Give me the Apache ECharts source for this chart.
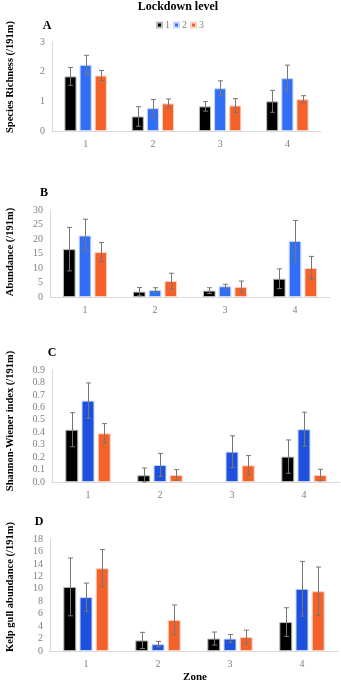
<!DOCTYPE html>
<html>
<head>
<meta charset="utf-8">
<script src="https://cdn.jsdelivr.net/npm/echarts@6/dist/echarts.min.js"></script>
<style>
  html, body { margin: 0; padding: 0; background: #fff; }
  #chart { width: 341px; height: 685px; }
</style>
</head>
<body>
<div id="chart"></div>
<script>
// Zones along the beach and the three lockdown levels
const zones = ['1', '2', '3', '4'];
const levels = ['1', '2', '3'];

// Panel A: species richness per 191 m (mean, SE) — one row per lockdown level
const richnessMean = [[1.84, 0.49, 0.83, 1.00], [2.23, 0.77, 1.44, 1.78], [1.87, 0.93, 0.86, 1.07]];
const richnessErr  = [[0.30, 0.33, 0.16, 0.37], [0.32, 0.29, 0.25, 0.44], [0.17, 0.15, 0.23, 0.12]];

// Panel B: abundance per 191 m
const abundanceMean = [[16.5, 1.85, 2.2, 6.3], [21.2, 2.4, 3.7, 19.3], [15.5, 5.5, 3.5, 10.0]];
const abundanceErr  = [[7.5, 1.4, 1.0, 3.4], [5.6, 0.8, 0.7, 7.1], [3.3, 2.7, 2.0, 4.0]];

// Panel C: Shannon-Wiener index per 191 m
const shannonMean = [[0.42, 0.054, 0, 0.204], [0.654, 0.137, 0.244, 0.424], [0.391, 0.056, 0.134, 0.056]];
const shannonErr  = [[0.137, 0.058, 0, 0.134], [0.142, 0.093, 0.127, 0.137], [0.078, 0.043, 0.078, 0.046]];

// Panel D: kelp gull abundance per 191 m
const gullMean = [[10.3, 1.7, 2.0, 4.65], [8.66, 1.1, 2.0, 10.0], [13.3, 5.0, 2.25, 9.6]];
const gullErr  = [[4.65, 1.3, 1.05, 2.3], [2.25, 0.43, 0.65, 4.4], [3.0, 2.4, 1.1, 3.9]];

// Axis ranges for each panel
const yMax = [3, 30, 0.9, 18];
const yStep = [1, 5, 0.1, 2];
const yDecimals = [0, 0, 1, 0];

const panelNames = ['A', 'B', 'C', 'D'];
const yTitles = ['Species Richness (/191m)', 'Abundance (/191m)', 'Shannon-Wiener index (/191m)', 'Kelp gull abundance (/191m)'];

const serif = '"Liberation Serif", "DejaVu Serif", serif';
const bluesLight = '#2f6ef5';
const bluesDark = '#1e50de';
const orange = '#f4622a';

const panels = [
  { mean: richnessMean, err: richnessErr, blue: bluesLight,
    grid: { left: 52, right: 20, top: 42, height: 89 } },
  { mean: abundanceMean, err: abundanceErr, blue: bluesLight,
    grid: { left: 50, right: 11, top: 210, height: 87 } },
  { mean: shannonMean, err: shannonErr, blue: bluesDark,
    grid: { left: 52, right: 1, top: 370, height: 112 } },
  { mean: gullMean, err: gullErr, blue: bluesDark,
    grid: { left: 50, right: 3, top: 539, height: 112 } }
];

const BAR_FRAC = 0.18;
const GAP_FRAC = 0.25;

const grids = [], xAxes = [], yAxes = [], series = [];

panels.forEach((p, pi) => {
  grids.push(p.grid);
  xAxes.push({
    type: 'category', gridIndex: pi, data: zones,
    axisLine: { lineStyle: { color: '#d9d9d9', width: 1 } },
    axisTick: { show: false },
    axisLabel: { color: '#7f7f7f', fontFamily: serif, fontSize: 10, margin: 8 }
  });
  yAxes.push({
    type: 'value', gridIndex: pi, min: 0, max: yMax[pi], interval: yStep[pi],
    axisLine: { show: true, lineStyle: { color: '#d9d9d9', width: 1 } },
    axisTick: { show: false },
    splitLine: { show: false },
    axisLabel: {
      color: '#7f7f7f', fontFamily: serif, fontSize: 10, margin: 7,
      formatter: v => v.toFixed(yDecimals[pi])
    }
  });

  const colors = ['#000000', p.blue, orange];
  const borders = ['#b8b8b8', '#c9d8fb', '#fbd3c3'];

  levels.forEach((lv, k) => {
    series.push({
      type: 'bar', name: lv, xAxisIndex: pi, yAxisIndex: pi,
      // a zero mean draws no bar, so it gets no outline either
      data: p.mean[k].map(v => v === 0 ? { value: v, itemStyle: { borderWidth: 0 } } : v),
      barWidth: (BAR_FRAC * 100) + '%',
      barGap: (GAP_FRAC * 100) + '%',
      itemStyle: { color: colors[k], borderColor: borders[k], borderWidth: 1 },
      emphasis: { disabled: true },
      animation: false
    });
  });

  // Standard-error whiskers, placed over each bar of the cluster
  levels.forEach((lv, k) => {
    series.push({
      type: 'custom', xAxisIndex: pi, yAxisIndex: pi,
      data: zones.map((z, i) => [i, p.mean[k][i], p.err[k][i]]),
      encode: { x: 0, y: 1 },
      z: 5,
      animation: false,
      renderItem: (params, api) => {
        const cat = api.value(0), v = api.value(1), e = api.value(2);
        if (!e) return null;
        const bw = api.size([1, 0])[0] * BAR_FRAC;
        const offset = (k - 1) * bw * (1 + GAP_FRAC);
        const top = api.coord([cat, v + e]);
        const bot = api.coord([cat, Math.max(0, v - e)]);
        const x = Math.round(top[0] + offset) + 0.5;
        const cap = 2.5;
        const style = { stroke: '#767676', lineWidth: 1 };
        return {
          type: 'group',
          children: [
            { type: 'line', shape: { x1: x, y1: top[1], x2: x, y2: bot[1] }, style },
            { type: 'line', shape: { x1: x - cap, y1: top[1], x2: x + cap, y2: top[1] }, style },
            { type: 'line', shape: { x1: x - cap, y1: bot[1], x2: x + cap, y2: bot[1] }, style }
          ]
        };
      }
    });
  });
});

// Panel letters and rotated axis titles
const letterPos = [[47, 26], [44, 193], [52, 353], [39, 522]];
const titleCenters = [[10, 77], [10, 252], [10, 421], [10, 587]];
const graphics = [];
panelNames.forEach((n, i) => {
  graphics.push({
    type: 'text', x: letterPos[i][0], y: letterPos[i][1],
    style: { text: n, fontFamily: serif, fontWeight: 'bold', fontSize: 12, fill: '#000',
             align: 'center', verticalAlign: 'middle' }
  });
  graphics.push({
    type: 'text', x: titleCenters[i][0], y: titleCenters[i][1], rotation: Math.PI / 2,
    style: { text: yTitles[i], fontFamily: serif, fontWeight: 'bold', fontSize: 10.5, fill: '#000',
             align: 'center', verticalAlign: 'middle' }
  });
});
graphics.push({
  type: 'text', x: 178, y: 7,
  style: { text: 'Lockdown level', fontFamily: serif, fontWeight: 'bold', fontSize: 12, fill: '#000',
           align: 'center', verticalAlign: 'middle' }
});
graphics.push({
  type: 'text', x: 195, y: 677,
  style: { text: 'Zone', fontFamily: serif, fontWeight: 'bold', fontSize: 11, fill: '#000',
           align: 'center', verticalAlign: 'middle' }
});

const chart = echarts.init(document.getElementById('chart'), null, { renderer: 'canvas' });
chart.setOption({
  backgroundColor: '#fff',
  animation: false,
  legend: {
    data: levels, left: 156, top: 20, padding: 0,
    icon: 'rect', itemWidth: 5, itemHeight: 5, itemGap: 3,
    textStyle: { color: '#7f7f7f', fontFamily: serif, fontSize: 10, padding: [0, 0, 0, -2] },
    selectedMode: false
  },
  grid: grids,
  xAxis: xAxes,
  yAxis: yAxes,
  series: series,
  graphic: graphics
});
</script>
</body>
</html>
